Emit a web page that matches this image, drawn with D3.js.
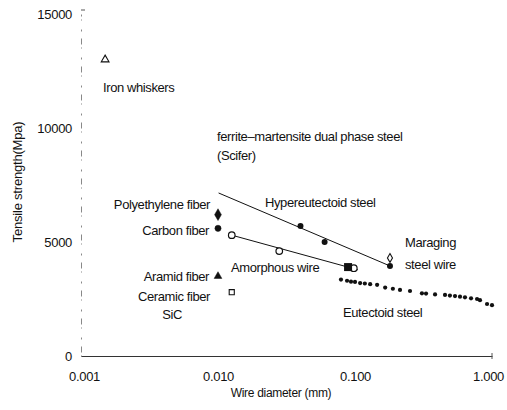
<!DOCTYPE html>
<html><head><meta charset="utf-8">
<script src="https://cdn.jsdelivr.net/npm/d3@7"></script>
<style>
html,body{margin:0;padding:0;background:#fff;}
svg text{font-family:"Liberation Sans",Arial,sans-serif;fill:#111;}
</style></head>
<body><svg id="c" width="507" height="410"></svg>
<script>
// ---- data ----
const xTicks = [0.001, 0.01, 0.1, 1];
const xTickLabels = ["0.001", "0.010", "0.100", "1.000"];
const yTicks = [0, 5000, 10000, 15000];
const yTickLabels = ["0", "5000", "10000", "15000"];

const hyperD = [0.04, 0.06, 0.18];
const hyperS = [5700, 5000, 3950];
const hyperLineD = [0.0101, 0.18];
const hyperLineS = [7150, 3950];

const amorphD = [0.0126, 0.028, 0.098];
const amorphS = [5300, 4600, 3850];
const amorphLineD = [0.0126, 0.105];
const amorphLineS = [5300, 3780];

const sciferD = [0.089];
const sciferS = [3900];

const eutectD = [0.079, 0.0875, 0.0935, 0.100, 0.109, 0.118, 0.129, 0.145, 0.166, 0.189, 0.213, 0.252, 0.308, 0.330, 0.384, 0.454, 0.493, 0.537, 0.584, 0.635, 0.703, 0.778, 0.817, 0.920, 1.0];
const eutectS = [3350, 3300, 3260, 3250, 3200, 3180, 3150, 3120, 3000, 2950, 2900, 2850, 2750, 2740, 2700, 2680, 2650, 2630, 2600, 2575, 2530, 2500, 2450, 2280, 2230];

const singleNames = ["Iron whiskers", "Polyethylene fiber", "Carbon fiber", "Aramid fiber", "Ceramic fiber SiC", "Maraging steel wire"];
const singleD = [0.0015, 0.010, 0.010, 0.010, 0.0126, 0.18];
const singleS = [13000, 6200, 5600, 3500, 2800, 4300];
const singleShape = ["triangle", "diamond", "circle", "triangle", "square", "diamond"];
const singleFilled = [false, true, true, true, false, false];

// ---- chart ----
const svg = d3.select("#c");
const x = d3.scaleLog().domain([0.001, 1]).range([81, 492]);
const y = d3.scaleLinear().domain([0, 15000]).range([356, 14]);
const ink = "#111";

// y axis (faint broken line)
const yAxis = d3.axisLeft(y).tickValues(yTicks).tickSize(0).tickFormat((d, i) => yTickLabels[i]);
const ya = svg.append("g").attr("transform", "translate(81,0)").call(yAxis);
ya.select(".domain").attr("stroke", "#888").attr("stroke-width", 1).attr("stroke-dasharray", "1,3,6,7,2,9");
ya.selectAll("text").attr("x", -9).style("font-size", "13px").style("letter-spacing", "-0.3px").attr("fill", ink);
svg.append("line").attr("x1", 81).attr("x2", 85).attr("y1", y(15000) - 4).attr("y2", y(15000) - 4).attr("stroke", "#555");

// x axis
const xAxis = d3.axisBottom(x).tickValues(xTicks).tickSize(0).tickFormat((d, i) => xTickLabels[i]);
const xa = svg.append("g").attr("transform", "translate(0,356)").call(xAxis);
xa.select(".domain").attr("stroke", "#333").attr("stroke-width", 1);
xa.selectAll("text").attr("y", 16).style("font-size", "13px").style("letter-spacing", "-0.3px").attr("fill", ink)
  .attr("dx", (d, i) => (i === 0 ? 3 : i === xTicks.length - 1 ? -4 : 0));
svg.append("line").attr("x1", x(1)).attr("x2", x(1)).attr("y1", 353).attr("y2", 359).attr("stroke", "#555");

// axis titles
svg.append("text").attr("x", 281).attr("y", 397).attr("text-anchor", "middle")
  .style("font-size", "12px").style("letter-spacing", "-0.3px").text("Wire diameter (mm)");
svg.append("text").attr("transform", "translate(22,182) rotate(-90)").attr("text-anchor", "middle")
  .style("font-size", "13px").style("letter-spacing", "-0.2px").text("Tensile strength(Mpa)");

// lines
const line = d3.line().x(d => x(d[0])).y(d => y(d[1]));
svg.append("path").attr("d", line(d3.zip(hyperLineD, hyperLineS))).attr("fill", "none").attr("stroke", ink).attr("stroke-width", 1);
svg.append("path").attr("d", line(d3.zip(amorphLineD, amorphLineS))).attr("fill", "none").attr("stroke", ink).attr("stroke-width", 1);

// hypereutectoid points
svg.selectAll(".hyp").data(d3.zip(hyperD, hyperS)).join("circle")
  .attr("cx", d => x(d[0])).attr("cy", d => y(d[1])).attr("r", 3).attr("fill", ink);

// amorphous points
svg.selectAll(".amo").data(d3.zip(amorphD, amorphS)).join("circle")
  .attr("cx", d => x(d[0])).attr("cy", d => y(d[1])).attr("r", 3.3).attr("fill", "#fff").attr("stroke", ink).attr("stroke-width", 1.2);

// scifer square
svg.selectAll(".sci").data(d3.zip(sciferD, sciferS)).join("rect")
  .attr("x", d => x(d[0]) - 4).attr("y", d => y(d[1]) - 4).attr("width", 8).attr("height", 8).attr("fill", ink);

// eutectoid dots
svg.selectAll(".eut").data(d3.zip(eutectD, eutectS)).join("circle")
  .attr("cx", d => x(d[0])).attr("cy", d => y(d[1])).attr("r", 2.1).attr("fill", ink);

// single points
const shapeMap = {triangle: d3.symbolTriangle, diamond: d3.symbolDiamond, circle: d3.symbolCircle, square: d3.symbolSquare};
const sizeMap = {triangle: 26, diamond: 40, circle: 30, square: 26};
singleNames.forEach((n, i) => {
  let sz = sizeMap[singleShape[i]];
  if (singleShape[i] === "diamond" && !singleFilled[i]) sz = 22;
  svg.append("path")
    .attr("d", d3.symbol().type(shapeMap[singleShape[i]]).size(sz)())
    .attr("transform", `translate(${x(singleD[i])},${y(singleS[i])})`)
    .attr("fill", singleFilled[i] ? ink : "#fff")
    .attr("stroke", ink).attr("stroke-width", singleFilled[i] ? 0.5 : 1.1);
});

// annotations
const ann = [
  ["Iron whiskers", 103, 92, "start"],
  ["ferrite\u2013martensite dual phase steel", 217, 141, "start"],
  ["(Scifer)", 217, 160, "start"],
  ["Polyethylene fiber", 210, 209, "end"],
  ["Carbon fiber", 209, 235, "end"],
  ["Hypereutectoid steel", 265, 207, "start"],
  ["Amorphous wire", 231, 272, "start"],
  ["Aramid fiber", 209, 281, "end"],
  ["Ceramic fiber", 210, 301, "end"],
  ["SiC", 172, 319, "middle"],
  ["Maraging", 405, 247, "start"],
  ["steel wire", 405, 269, "start"],
  ["Eutectoid steel", 343, 317, "start"]
];
ann.forEach(a => {
  svg.append("text").attr("x", a[1]).attr("y", a[2]).attr("text-anchor", a[3])
    .style("font-size", "13px").style("letter-spacing", "-0.4px").text(a[0]);
});
</script>
</body></html>
